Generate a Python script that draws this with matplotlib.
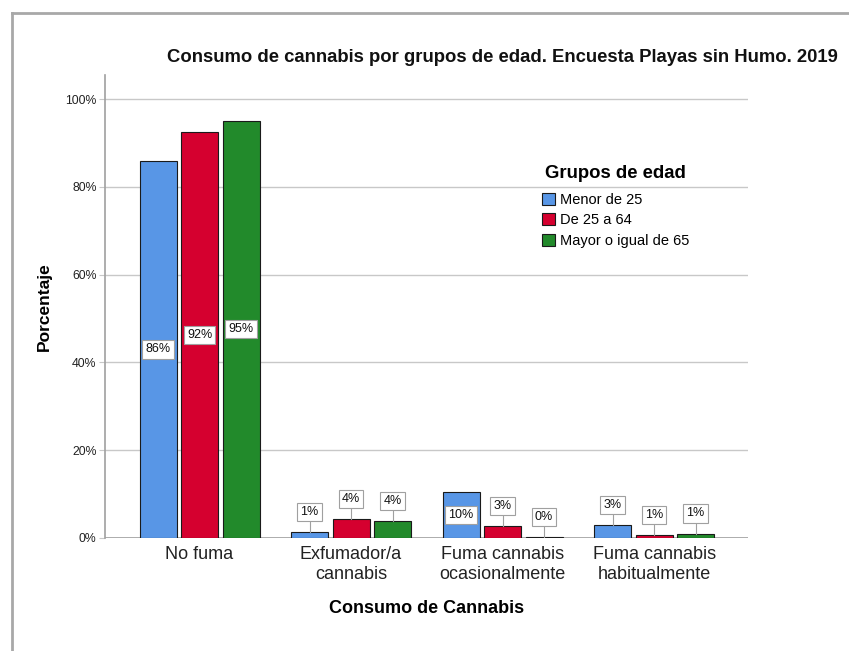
import matplotlib
matplotlib.use("Agg")
import matplotlib.pyplot as plt
from matplotlib.lines import Line2D
import numpy as np

plt.rcParams['font.family'] = ['Liberation Sans', 'DejaVu Sans']

categories = ["No fuma", "Exfumador/a\ncannabis", "Fuma cannabis\nocasionalmente", "Fuma cannabis\nhabitualmente"]
groups = ["Menor de 25", "De 25 a 64", "Mayor o igual de 65"]
menor_25 = [85.9, 1.3, 10.4, 2.9]
de_25_64 = [92.5, 4.3, 2.7, 0.7]
mayor_65 = [95.1, 3.9, 0.2, 1.0]
labels_menor = ["86%", "1%", "10%", "3%"]
labels_medio = ["92%", "4%", "3%", "1%"]
labels_mayor = ["95%", "4%", "0%", "1%"]
yticks = [0, 20, 40, 60, 80, 100]
ytick_labels = ["0%", "20%", "40%", "60%", "80%", "100%"]

colors = ["#5896E6", "#D5002F", "#228A2B"]
series = [menor_25, de_25_64, mayor_65]
series_labels = [labels_menor, labels_medio, labels_mayor]

W, H = 849, 651
fig = plt.figure(figsize=(W / 100, H / 100), dpi=100)
fig.patch.set_facecolor("white")

def fx(px):
    return px / W

def fy(py):
    return 1 - py / H

ax = fig.add_axes([fx(105), fy(538), fx(748) - fx(105), fy(75) - fy(538)])
ax.set_xlim(-0.624, 3.62)
ax.set_ylim(0, 105.47)

x = np.arange(len(categories))
step = 0.274
width = 0.244
bars = []
for k, (vals, col) in enumerate(zip(series, colors)):
    b = ax.bar(x + (k - 1) * step, vals, width=width, color=col, edgecolor="#1a1a1a",
               linewidth=0.8, zorder=3, label=groups[k])
    bars.append(b)

# value labels
box = dict(boxstyle="square,pad=0.25", facecolor="white", edgecolor="#A0A0A0", linewidth=0.8)
for k, (vals, labs) in enumerate(zip(series, series_labels)):
    for i, (v, lab) in enumerate(zip(vals, labs)):
        xc = x[i] + (k - 1) * step
        if v >= 8:
            ax.text(xc, v / 2, lab, ha="center", va="center", fontsize=9,
                    bbox=box, zorder=5, color="#111111")
        else:
            ly = v + 4.6
            ax.plot([xc, xc], [v, ly - 1.5], color="#A0A0A0", lw=0.8, zorder=4)
            ax.text(xc, ly, lab, ha="center", va="center", fontsize=9,
                    bbox=box, zorder=5, color="#111111")

# grid and spines
ax.set_yticks(yticks)
ax.set_yticklabels(ytick_labels, fontsize=8.8, color="#222222")
ax.yaxis.grid(True, color="#C8C8C8", linewidth=1.0, zorder=0)
ax.set_axisbelow(True)
for s in ["top", "right", "bottom"]:
    ax.spines[s].set_visible(False)
ax.spines["left"].set_color("#A0A0A0")
ax.spines["left"].set_linewidth(1.2)
ax.axhline(0, color="#A0A0A0", linewidth=1.2, zorder=2)
ax.tick_params(axis="y", length=4, color="#C8C8C8", pad=2)
ax.tick_params(axis="x", length=0, pad=6)
ax.set_xticks(x)
ax.set_xticklabels(categories, fontsize=13, color="#222222", linespacing=1.2)

ax.set_ylabel("Porcentaje", fontsize=12.5, fontweight="bold", labelpad=10)
ax.set_xlabel("Consumo de Cannabis", fontsize=13, fontweight="bold", labelpad=12)

fig.text(fx(502), fy(57), "Consumo de cannabis por grupos de edad. Encuesta Playas sin Humo. 2019",
         ha="center", va="center", fontsize=13.3, fontweight="bold", color="#111111")

# legend
leg = ax.legend(handles=bars, labels=groups, title="Grupos de edad", loc="upper left",
                bbox_to_anchor=(fx(542), fy(165)), bbox_transform=fig.transFigure,
                frameon=False, fontsize=10.5, handlelength=0.9, handleheight=0.9,
                handletextpad=0.3, labelspacing=0.42, borderpad=0, borderaxespad=0)
leg.get_title().set_fontsize(13.3)
leg.get_title().set_fontweight("bold")
leg._legend_box.sep = 8

# outer frame (top and left visible)
fig.add_artist(Line2D([fx(12), fx(849)], [fy(13), fy(13)], color="#A8A8A8", lw=2,
                      transform=fig.transFigure))
fig.add_artist(Line2D([fx(12), fx(12)], [fy(13), fy(651)], color="#A8A8A8", lw=2,
                      transform=fig.transFigure))

fig.savefig("out.png", dpi=100, facecolor="white")
